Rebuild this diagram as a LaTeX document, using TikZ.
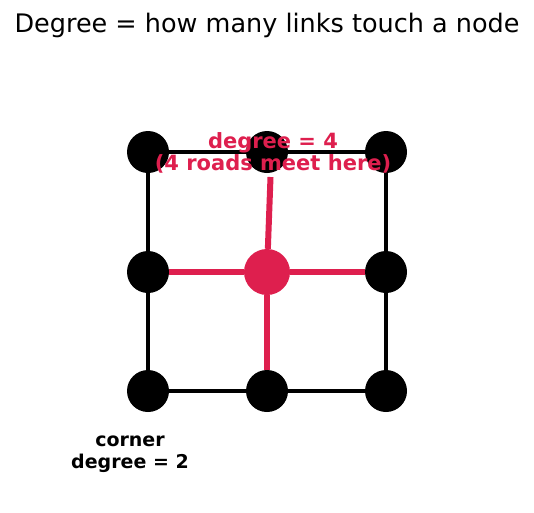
\documentclass[tikz,border=0pt]{standalone}
\usepackage{fontspec}
\setmainfont{DejaVu Sans}
\definecolor{hubred}{RGB}{222,31,78}
\usetikzlibrary{positioning}

\begin{document}
\begin{tikzpicture}[x=1pt,y=-1pt,
  dot/.style={circle,fill=black,minimum size=42pt,inner sep=0pt},
  hub/.style={circle,fill=hubred,minimum size=46pt,inner sep=0pt},
  link/.style={line width=4.3pt},
  hublink/.style={hubred,line width=6pt}]
\useasboundingbox (0,0) rectangle (534,512);
\node[font=\fontsize{25.5}{30}\selectfont] (title) at (267,25) {Degree = how many links touch a node};
% grid nodes
\node[dot] (tl) at (148,152) {};
\node[dot] (tm) at (267,152) {};
\node[dot] (tr) at (386,152) {};
\node[dot] (ml) at (148,272) {};
\node[hub] (mm) at (267,272) {};
\node[dot] (mr) at (386,272) {};
\node[dot] (bl) at (148,391) {};
\node[dot] (bm) at (267,391) {};
\node[dot] (br) at (386,391) {};
\coordinate (tmend) at (270.5,177);
% outer links
\draw[link] (tl) -- (tm);
\draw[link] (tm) -- (tr);
\draw[link] (tl) -- (ml);
\draw[link] (ml) -- (bl);
\draw[link] (tr) -- (mr);
\draw[link] (mr) -- (br);
\draw[link] (bl) -- (bm);
\draw[link] (bm) -- (br);
% links of the centre node
\draw[hublink] (mm) -- (ml);
\draw[hublink] (mm) -- (mr);
\draw[hublink] (mm) -- (bm);
\draw[hublink] (mm) -- (tmend);
\node[hubred,font=\bfseries\fontsize{21}{22.5}\selectfont,align=center] (hublabel) at (273,153) {degree = 4\\(4 roads meet here)};
\node[font=\bfseries\fontsize{19}{22}\selectfont,align=center] (cornerlabel) at (130,454) {corner\\degree = 2};
\end{tikzpicture}
\end{document}
